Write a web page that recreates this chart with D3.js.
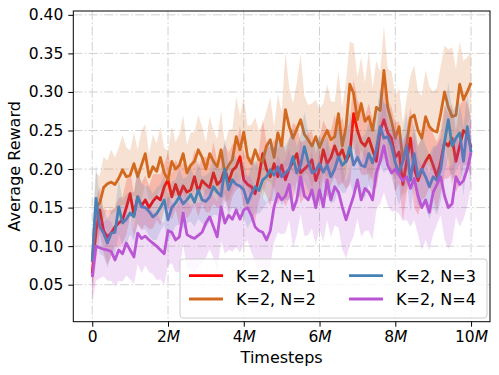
<!DOCTYPE html>
<html><head><meta charset="utf-8">
<script src="https://cdn.jsdelivr.net/npm/d3@7"></script>
<style>
html,body{margin:0;padding:0;background:#fff;}
svg{display:block;font-family:"DejaVu Sans",sans-serif;}
</style></head>
<body>
<svg id="chart" width="499" height="375"></svg>
<script>
// ---- data ----
const seriesNames = ["K=2, N=1", "K=2, N=2", "K=2, N=3", "K=2, N=4"];
const seriesColors = ["#ff0000", "#d2691e", "#4682b4", "#ba55d3"];
const xTickValues = [0, 2e6, 4e6, 6e6, 8e6, 10e6];
const xTickNums = ["0", "2", "4", "6", "8", "10"];
const yTickValues = [0.05, 0.10, 0.15, 0.20, 0.25, 0.30, 0.35, 0.40];
const yTickLabels = ["0.05", "0.10", "0.15", "0.20", "0.25", "0.30", "0.35", "0.40"];
const timesteps = d3.range(0, 101).map(i => i * 1e5);

const meanN1 = [0.065,0.120,0.147,0.120,0.112,0.117,0.125,0.130,0.134,0.150,
 0.168,0.140,0.164,0.152,0.160,0.150,0.158,0.164,0.160,0.177,
 0.186,0.164,0.180,0.165,0.178,0.170,0.173,0.190,0.170,0.185,
 0.180,0.176,0.195,0.180,0.185,0.200,0.183,0.198,0.203,0.216,
 0.186,0.180,0.177,0.168,0.190,0.220,0.200,0.190,0.207,0.190,
 0.205,0.186,0.200,0.210,0.220,0.195,0.200,0.205,0.212,0.185,
 0.200,0.225,0.207,0.215,0.230,0.216,0.225,0.210,0.220,0.272,
 0.250,0.235,0.230,0.240,0.225,0.210,0.250,0.264,0.247,0.240,
 0.215,0.222,0.180,0.210,0.240,0.200,0.185,0.200,0.210,0.218,
 0.205,0.190,0.210,0.235,0.230,0.240,0.210,0.230,0.250,0.245,0.228];
const meanN2 = [0.080,0.150,0.156,0.176,0.181,0.183,0.180,0.188,0.199,0.190,
 0.192,0.207,0.190,0.205,0.220,0.190,0.203,0.197,0.215,0.195,
 0.186,0.210,0.200,0.205,0.220,0.195,0.205,0.210,0.225,0.215,
 0.200,0.220,0.210,0.203,0.225,0.195,0.205,0.212,0.242,0.225,
 0.248,0.216,0.207,0.225,0.212,0.210,0.230,0.238,0.215,0.247,
 0.230,0.277,0.255,0.240,0.252,0.264,0.245,0.238,0.230,0.242,
 0.228,0.240,0.250,0.238,0.242,0.272,0.230,0.255,0.310,0.298,
 0.264,0.285,0.262,0.268,0.250,0.280,0.276,0.328,0.280,0.262,
 0.240,0.255,0.212,0.232,0.266,0.270,0.250,0.240,0.268,0.255,
 0.250,0.248,0.272,0.300,0.280,0.268,0.270,0.310,0.290,0.300,0.312];
const meanN3 = [0.080,0.162,0.125,0.117,0.104,0.117,0.118,0.151,0.130,0.135,
 0.143,0.138,0.164,0.151,0.150,0.145,0.138,0.142,0.150,0.160,
 0.134,0.150,0.156,0.164,0.155,0.160,0.167,0.157,0.173,0.160,
 0.158,0.164,0.177,0.170,0.165,0.200,0.173,0.186,0.180,0.178,
 0.173,0.156,0.168,0.177,0.172,0.186,0.190,0.199,0.192,0.203,
 0.190,0.195,0.200,0.216,0.195,0.205,0.229,0.210,0.195,0.198,
 0.207,0.196,0.205,0.190,0.200,0.216,0.205,0.210,0.229,0.205,
 0.215,0.205,0.203,0.220,0.208,0.225,0.255,0.240,0.242,0.230,
 0.208,0.195,0.210,0.229,0.185,0.220,0.190,0.200,0.190,0.177,
 0.190,0.185,0.200,0.235,0.264,0.230,0.240,0.247,0.210,0.255,0.222];
const meanN4 = [0.060,0.100,0.098,0.096,0.095,0.093,0.082,0.095,0.090,0.104,
 0.095,0.086,0.117,0.110,0.113,0.108,0.104,0.100,0.095,0.090,
 0.120,0.118,0.108,0.112,0.143,0.115,0.112,0.110,0.114,0.118,
 0.130,0.138,0.125,0.112,0.151,0.130,0.140,0.135,0.147,0.135,
 0.147,0.150,0.140,0.125,0.120,0.118,0.108,0.120,0.151,0.168,
 0.160,0.165,0.180,0.147,0.160,0.190,0.165,0.160,0.173,0.150,
 0.173,0.151,0.186,0.160,0.177,0.170,0.151,0.134,0.150,0.165,
 0.186,0.160,0.175,0.170,0.160,0.195,0.210,0.230,0.205,0.195,
 0.200,0.192,0.185,0.190,0.175,0.188,0.165,0.150,0.160,0.144,
 0.170,0.180,0.190,0.165,0.150,0.155,0.190,0.180,0.185,0.200,0.222];

const spreadN1 = [0.030,0.040,0.030,0.028,0.035,0.030,0.025,0.032,0.030,0.035,
 0.030,0.028,0.035,0.030,0.032,0.028,0.035,0.030,0.033,0.030,
 0.035,0.030,0.032,0.038,0.030,0.034,0.030,0.035,0.032,0.030,
 0.036,0.032,0.040,0.030,0.035,0.032,0.038,0.034,0.030,0.040,
 0.035,0.032,0.040,0.036,0.032,0.045,0.035,0.038,0.032,0.036,
 0.040,0.035,0.038,0.050,0.035,0.040,0.036,0.042,0.038,0.035,
 0.040,0.038,0.045,0.035,0.040,0.038,0.042,0.036,0.040,0.045,
 0.040,0.042,0.038,0.045,0.040,0.036,0.045,0.050,0.042,0.040,
 0.045,0.040,0.048,0.042,0.040,0.050,0.045,0.040,0.046,0.042,
 0.040,0.045,0.040,0.048,0.042,0.045,0.040,0.050,0.045,0.040,0.038];
const spreadN2 = [0.030,0.045,0.035,0.040,0.030,0.042,0.035,0.040,0.045,0.038,
 0.032,0.040,0.035,0.045,0.038,0.030,0.042,0.036,0.040,0.032,
 0.038,0.045,0.035,0.040,0.050,0.036,0.042,0.038,0.045,0.040,
 0.035,0.048,0.040,0.036,0.050,0.038,0.045,0.040,0.052,0.044,
 0.045,0.040,0.050,0.042,0.038,0.048,0.045,0.055,0.040,0.050,
 0.045,0.075,0.050,0.045,0.060,0.085,0.050,0.045,0.055,0.048,
 0.050,0.045,0.060,0.050,0.045,0.055,0.050,0.060,0.055,0.065,
 0.055,0.060,0.050,0.085,0.055,0.060,0.050,0.058,0.050,0.065,
 0.055,0.050,0.048,0.060,0.055,0.065,0.050,0.055,0.060,0.052,
 0.050,0.058,0.062,0.060,0.075,0.090,0.060,0.055,0.050,0.045,0.040];
const spreadN3 = [0.040,0.045,0.035,0.030,0.032,0.028,0.030,0.035,0.030,0.032,
 0.028,0.032,0.035,0.030,0.028,0.032,0.030,0.034,0.030,0.032,
 0.030,0.034,0.030,0.036,0.032,0.030,0.035,0.032,0.038,0.030,
 0.034,0.032,0.036,0.030,0.035,0.040,0.032,0.036,0.034,0.032,
 0.035,0.032,0.036,0.034,0.030,0.038,0.035,0.040,0.034,0.036,
 0.038,0.035,0.040,0.036,0.034,0.040,0.045,0.038,0.035,0.040,
 0.036,0.040,0.038,0.035,0.042,0.040,0.036,0.040,0.045,0.038,
 0.040,0.036,0.042,0.040,0.038,0.045,0.050,0.045,0.042,0.040,
 0.038,0.042,0.040,0.045,0.040,0.042,0.038,0.045,0.040,0.042,
 0.040,0.045,0.042,0.040,0.048,0.045,0.042,0.040,0.045,0.042,0.040];
const spreadN4 = [0.035,0.045,0.040,0.035,0.040,0.038,0.035,0.040,0.036,0.042,
 0.038,0.035,0.040,0.045,0.038,0.042,0.040,0.044,0.038,0.040,
 0.045,0.040,0.042,0.046,0.040,0.044,0.040,0.045,0.042,0.040,
 0.045,0.042,0.040,0.046,0.044,0.040,0.045,0.042,0.048,0.044,
 0.045,0.042,0.048,0.045,0.050,0.045,0.048,0.044,0.046,0.050,
 0.045,0.048,0.046,0.050,0.045,0.048,0.052,0.046,0.050,0.048,
 0.050,0.046,0.052,0.048,0.050,0.046,0.055,0.050,0.048,0.052,
 0.050,0.048,0.055,0.050,0.052,0.048,0.055,0.060,0.052,0.050,
 0.055,0.050,0.052,0.056,0.050,0.054,0.050,0.055,0.052,0.050,
 0.055,0.052,0.050,0.056,0.054,0.050,0.052,0.055,0.050,0.048,0.045];

const means = [meanN1, meanN2, meanN3, meanN4];
const spreads = [spreadN1, spreadN2, spreadN3, spreadN4];

// ---- layout ----
const L = 73.3, R = 490, T = 11, B = 321.7;
const svg = d3.select("#chart");
const x = d3.scaleLinear().domain([-0.5e6, 10.5e6]).range([L, R]);
const y = d3.scaleLinear().domain([0.002, 0.405]).range([B, T]);

// grid
const grid = svg.append("g").attr("stroke", "#d0d0d0").attr("stroke-width", 1)
  .attr("stroke-dasharray", "9,2.5,1.5,2.5").attr("fill", "none");
xTickValues.forEach(v => grid.append("line").attr("x1", x(v)).attr("x2", x(v)).attr("y1", T).attr("y2", B));
yTickValues.forEach(v => grid.append("line").attr("x1", L).attr("x2", R).attr("y1", y(v)).attr("y2", y(v)));

// clip
svg.append("clipPath").attr("id", "clip").append("rect")
  .attr("x", L).attr("y", T).attr("width", R - L).attr("height", B - T);
const plot = svg.append("g").attr("clip-path", "url(#clip)");

const area = d3.area().x((d, i) => x(timesteps[i]))
  .y0(d => y(d[0] - d[1])).y1(d => y(d[0] + d[1]));
const line = d3.line().x((d, i) => x(timesteps[i])).y(d => y(d));

means.forEach((m, k) => {
  const pts = m.map((v, i) => [v, spreads[k][i]]);
  plot.append("path").attr("d", area(pts)).attr("fill", seriesColors[k]).attr("fill-opacity", 0.2);
  plot.append("path").attr("d", line(m)).attr("fill", "none")
    .attr("stroke", seriesColors[k]).attr("stroke-width", 2.8).attr("stroke-linejoin", "round");
});

// axes
const xAxis = svg.append("g").attr("transform", `translate(0,${B})`)
  .call(d3.axisBottom(x).tickValues(xTickValues).tickSize(5).tickFormat(""));
xAxis.attr("font-family", "DejaVu Sans");
xAxis.select(".domain").remove();
xAxis.selectAll(".tick line").attr("stroke", "#000").attr("stroke-width", 1);
xAxis.selectAll(".tick").each(function(d, i) {
  const t = d3.select(this).append("text").attr("y", 20.5).attr("text-anchor", "middle")
    .attr("fill", "#000").attr("font-size", 15.5);
  t.append("tspan").text(xTickNums[i]);
  if (i > 0) t.append("tspan").attr("font-style", "italic").text("M");
});

const yAxis = svg.append("g").attr("transform", `translate(${L},0)`)
  .call(d3.axisLeft(y).tickValues(yTickValues).tickSize(5).tickFormat((d, i) => yTickLabels[i]));
yAxis.attr("font-family", "DejaVu Sans");
yAxis.select(".domain").remove();
yAxis.selectAll(".tick line").attr("stroke", "#000").attr("stroke-width", 1);
yAxis.selectAll(".tick text").attr("x", -10).attr("font-size", 15.5).attr("fill", "#000");

// frame
svg.append("rect").attr("x", L).attr("y", T).attr("width", R - L).attr("height", B - T)
  .attr("fill", "none").attr("stroke", "#000").attr("stroke-width", 1);

// labels
svg.append("text").attr("x", (L + R) / 2).attr("y", 362.5).attr("text-anchor", "middle")
  .attr("font-size", 16).text("Timesteps");
svg.append("text").attr("transform", `translate(20,${(T + B) / 2}) rotate(-90)`)
  .attr("text-anchor", "middle").attr("font-size", 16).text("Average Reward");

// legend
const lg = svg.append("g");
lg.append("rect").attr("x", 180).attr("y", 259).attr("width", 307).attr("height", 59)
  .attr("rx", 3).attr("fill", "#fff").attr("fill-opacity", 0.8).attr("stroke", "#cccccc");
const legPos = [[189, 275.7], [189, 299], [349, 275.7], [349, 299]];
seriesNames.forEach((n, k) => {
  const [lx, ly] = legPos[k];
  lg.append("line").attr("x1", lx).attr("x2", lx + 34).attr("y1", ly).attr("y2", ly)
    .attr("stroke", seriesColors[k]).attr("stroke-width", 2.8);
  lg.append("text").attr("x", lx + 47).attr("y", ly + 5.8).attr("font-size", 16).text(n);
});
</script>
</body></html>
